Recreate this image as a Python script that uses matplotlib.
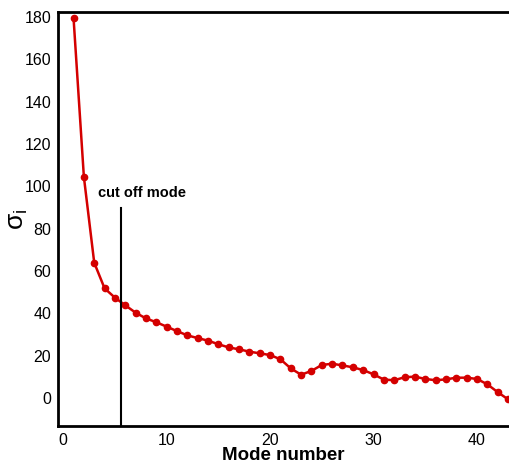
import matplotlib
matplotlib.use('Agg')
import matplotlib.pyplot as plt

plt.rcParams['font.family'] = ['Liberation Sans', 'DejaVu Sans']
plt.rcParams['mathtext.default'] = 'regular'

# singular values per mode
modes = list(range(1, 44))
sigma = [179.5, 104.4, 63.9, 51.8, 47.4, 43.8, 40.3, 37.6, 35.8, 33.7,
         31.6, 29.6, 28.3, 27.1, 25.4, 23.9, 23.0, 21.9, 21.1, 20.3,
         18.3, 14.0, 11.0, 12.8, 15.6, 16.2, 15.4, 14.5, 13.2, 11.2,
         8.7, 8.4, 9.8, 10.1, 9.0, 8.4, 8.8, 9.6, 9.6, 9.0,
         6.5, 2.8, -0.6]
cutoff_mode = 5.6
cutoff_top = 89.7
xticks = [0, 10, 20, 30, 40]
yticks = [0, 20, 40, 60, 80, 100, 120, 140, 160, 180]

fig = plt.figure(figsize=(5.09, 4.63), dpi=100)
ax = fig.add_axes([0.114, 0.080, 0.886, 0.894])

ax.plot(modes, sigma, color='#d40000', lw=1.8, marker='o', ms=4.5)
ax.plot([cutoff_mode, cutoff_mode], [-20, cutoff_top], color='black', lw=1.5)
ax.text(3.4, cutoff_top + 4, 'cut off mode', fontsize=10.5,
        fontweight='bold', ha='left', va='bottom')

ax.set_xlim(-0.5, 43.1)
ax.set_ylim(-13.2, 182.3)
ax.set_xticks(xticks)
ax.set_yticks(yticks)
ax.tick_params(length=0, labelsize=11.5, pad=5)
ax.spines['right'].set_visible(False)
for s in ['left', 'top', 'bottom']:
    ax.spines[s].set_linewidth(2)

ax.set_xlabel('Mode number', fontsize=13.5, fontweight='bold', labelpad=-1)
ax.set_ylabel(r'$\sigma_i$', fontsize=19, labelpad=-4)

fig.savefig('out.png', dpi=100)
